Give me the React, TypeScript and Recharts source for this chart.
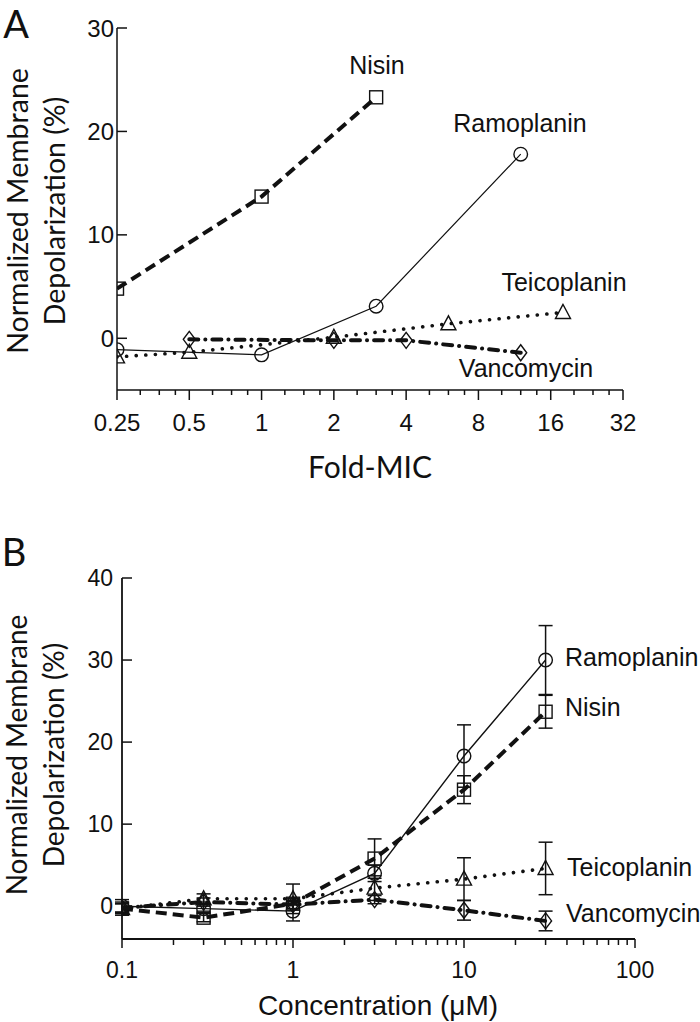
import React from 'react';
import { ComposedChart, Line, XAxis, YAxis, ErrorBar } from 'recharts';

const INK = '#111111';
const SANS = '"Liberation Sans", Arial, sans-serif';
const TITLE = 'Lato, "Liberation Sans", sans-serif';

// ---------- Panel A (Fold-MIC) ----------
const foldTicks = [0.25, 0.5, 1, 2, 4, 8, 16, 32];
const foldMinorTicks = [0.3125, 0.375, 0.4375, 0.625, 0.75, 0.875, 1.25, 1.5, 1.75, 2.5, 3, 3.5, 5, 6, 7, 10, 12, 14, 20, 24, 28];
const yTicksA = [0, 10, 20, 30];

const nisinAx = [0.25, 1, 3];
const nisinAy = [4.8, 13.7, 23.3];
const ramoAx = [0.25, 1, 3, 12];
const ramoAy = [-1.1, -1.6, 3.1, 17.8];
const teicoAx = [0.25, 0.5, 2, 6, 18];
const teicoAy = [-1.8, -1.35, 0.1, 1.4, 2.5];
const vancoAx = [0.5, 2, 4, 12];
const vancoAy = [-0.1, -0.2, -0.2, -1.4];

// ---------- Panel B (Concentration) ----------
const concTicks = [0.1, 1, 10, 100];
const concMinorTicks = [0.2, 0.3, 0.4, 0.5, 0.6, 0.7, 0.8, 0.9, 2, 3, 4, 5, 6, 7, 8, 9, 20, 30, 40, 50, 60, 70, 80, 90];
const yTicksB = [0, 10, 20, 30, 40];
const concB = [0.1, 0.3, 1, 3, 10, 30];

const ramoB = [0.0, -0.3, -0.6, 4.0, 18.3, 30.0];
const ramoBErr = [0.8, 0.5, 1.2, 1.0, 3.8, 4.2];
const nisinB = [-0.3, -1.4, 0.3, 5.8, 14.2, 23.7];
const nisinBErr = [0.8, 0.5, 0.6, 2.4, 1.7, 2.0];
const teicoB = [-0.3, 0.9, 0.9, 2.2, 3.3, 4.6];
const teicoBErr = [0.6, 0.6, 1.8, 1.5, 2.6, 3.2];
const vancoB = [-0.2, 0.5, 0.2, 0.8, -0.5, -1.8];
const vancoBErr = [0.5, 0.5, 0.5, 0.5, 1.2, 1.2];

const pts = (xs: number[], ys: number[], errs?: number[]) =>
  xs.map((x, i) => ({ x, y: ys[i], err: errs ? errs[i] : 0 }));

type Shape = 'square' | 'circle' | 'triangle' | 'diamond';

const makeDot = (shape: Shape) => (props: any) => {
  const { cx, cy, index } = props;
  if (cx == null || cy == null || isNaN(cx) || isNaN(cy)) return <g key={`d${index}`} />;
  const common = { fill: 'none', stroke: INK, strokeWidth: 1.4 };
  if (shape === 'square') return <rect key={`d${index}`} x={cx - 6.5} y={cy - 6.5} width={13} height={13} {...common} />;
  if (shape === 'circle') return <circle key={`d${index}`} cx={cx} cy={cy} r={6.8} {...common} />;
  if (shape === 'triangle')
    return <polygon key={`d${index}`} points={`${cx},${cy - 8} ${cx - 7.5},${cy + 6} ${cx + 7.5},${cy + 6}`} {...common} />;
  return <polygon key={`d${index}`} points={`${cx},${cy - 8} ${cx + 6},${cy} ${cx},${cy + 8} ${cx - 6},${cy}`} {...common} />;
};

// y axis: inward ticks, labels just left of the axis line
const makeYTick = (gap: number, len: number, fontSize: number) => (props: any) => {
  const { x, y, payload } = props;
  const ax = x; // tickSize 0, tickMargin 0 -> x is the axis line
  return (
    <g>
      <line x1={ax} x2={ax + len} y1={y} y2={y} stroke={INK} strokeWidth={1.5} />
      <text x={ax - gap} y={y} textAnchor="end" dominantBaseline="central" fontSize={fontSize} fontFamily={SANS} fill={INK}>
        {payload.value}
      </text>
    </g>
  );
};

// x axis: outward major/minor ticks, labels only on majors
const makeXTick = (majors: number[], majorLen: number, minorLen: number, fontSize: number, labelDy: number) => (props: any) => {
  const { x, y, payload } = props;
  const v = payload.value;
  const major = majors.some((m) => Math.abs(m - v) < 1e-9);
  return (
    <g>
      <line x1={x} x2={x} y1={y} y2={y + (major ? majorLen : minorLen)} stroke={INK} strokeWidth={1.5} />
      {major && (
        <text x={x} y={y + labelDy} textAnchor="middle" dominantBaseline="central" fontSize={fontSize} fontFamily={SANS} fill={INK}>
          {String(v)}
        </text>
      )}
    </g>
  );
};

const styles = {
  nisin: { stroke: INK, strokeWidth: 4, strokeDasharray: '11 6' },
  ramo: { stroke: INK, strokeWidth: 1.2 },
  teico: { stroke: INK, strokeWidth: 3.6, strokeDasharray: '0.1 9.5', strokeLinecap: 'round' as const },
  vanco: { stroke: INK, strokeWidth: 4, strokeDasharray: '9 7 0.1 7', strokeLinecap: 'round' as const },
};

const foldAll = [...foldTicks, ...foldMinorTicks].sort((a, b) => a - b);
const concAll = [...concTicks, ...concMinorTicks].sort((a, b) => a - b);

function PanelA() {
  return (
    <ComposedChart width={700} height={440} margin={{ top: 28, right: 77, bottom: 20, left: 87 }}>
      <XAxis
        dataKey="x"
        type="number"
        scale="log"
        domain={[0.25, 32]}
        allowDataOverflow
        ticks={foldAll}
        interval={0}
        height={30}
        axisLine={{ stroke: INK, strokeWidth: 1.5 }}
        tickLine={false}
        tickSize={0}
        tickMargin={0}
        tick={makeXTick(foldTicks, 10, 5, 24, 32)}
      />
      <YAxis
        type="number"
        domain={[-5, 30]}
        ticks={yTicksA}
        interval={0}
        width={30}
        allowDataOverflow
        axisLine={{ stroke: INK, strokeWidth: 1.5 }}
        tickLine={false}
        tickSize={0}
        tickMargin={0}
        tick={makeYTick(3, 10, 24)}
      />
      <Line data={pts(nisinAx, nisinAy)} dataKey="y" type="linear" {...styles.nisin} dot={makeDot('square')} activeDot={false} isAnimationActive={false} />
      <Line data={pts(ramoAx, ramoAy)} dataKey="y" type="linear" {...styles.ramo} dot={makeDot('circle')} activeDot={false} isAnimationActive={false} />
      <Line data={pts(teicoAx, teicoAy)} dataKey="y" type="linear" {...styles.teico} dot={makeDot('triangle')} activeDot={false} isAnimationActive={false} />
      <Line data={pts(vancoAx, vancoAy)} dataKey="y" type="linear" {...styles.vanco} dot={makeDot('diamond')} activeDot={false} isAnimationActive={false} />
    </ComposedChart>
  );
}

function PanelB() {
  const eb = (k: string) => (
    <ErrorBar dataKey="err" width={7} stroke={INK} strokeWidth={1.5} direction="y" isAnimationActive={false} key={k} />
  );
  return (
    <ComposedChart width={700} height={522} margin={{ top: 78, right: 65, bottom: 53, left: 92 }}>
      <XAxis
        dataKey="x"
        type="number"
        scale="log"
        domain={[0.1, 100]}
        allowDataOverflow
        ticks={concAll}
        interval={0}
        height={30}
        axisLine={{ stroke: INK, strokeWidth: 1.8 }}
        tickLine={false}
        tickSize={0}
        tickMargin={0}
        tick={makeXTick(concTicks, 9, 6, 23, 31)}
      />
      <YAxis
        type="number"
        domain={[-4, 40]}
        ticks={yTicksB}
        interval={0}
        width={30}
        allowDataOverflow
        axisLine={{ stroke: INK, strokeWidth: 1.8 }}
        tickLine={false}
        tickSize={0}
        tickMargin={0}
        tick={makeYTick(9, 10, 23)}
      />
      <Line data={pts(concB, nisinB, nisinBErr)} dataKey="y" type="linear" {...styles.nisin} dot={makeDot('square')} activeDot={false} isAnimationActive={false}>
        {eb('n')}
      </Line>
      <Line data={pts(concB, ramoB, ramoBErr)} dataKey="y" type="linear" {...styles.ramo} strokeWidth={1.4} dot={makeDot('circle')} activeDot={false} isAnimationActive={false}>
        {eb('r')}
      </Line>
      <Line data={pts(concB, teicoB, teicoBErr)} dataKey="y" type="linear" {...styles.teico} dot={makeDot('triangle')} activeDot={false} isAnimationActive={false}>
        {eb('t')}
      </Line>
      <Line data={pts(concB, vancoB, vancoBErr)} dataKey="y" type="linear" {...styles.vanco} dot={makeDot('diamond')} activeDot={false} isAnimationActive={false}>
        {eb('v')}
      </Line>
    </ComposedChart>
  );
}

function Overlay() {
  const lab = { fontSize: 25, fontFamily: SANS, fill: INK };
  const yl = { fontFamily: TITLE, fill: INK, textAnchor: 'middle' as const, dominantBaseline: 'central' as const };
  return (
    <svg width={700} height={1022} style={{ position: 'absolute', left: 0, top: 0, pointerEvents: 'none' }}>
      <text x={16} y={23} fontSize={38} fontFamily={TITLE} fill={INK} textAnchor="middle" dominantBaseline="central">A</text>
      <text x={14} y={551} fontSize={38} fontFamily={TITLE} fill={INK} textAnchor="middle" dominantBaseline="central">B</text>

      <text transform="translate(17,211) rotate(-90)" fontSize={28.5} {...yl}>Normalized Membrane</text>
      <text transform="translate(54,211) rotate(-90)" fontSize={28.5} {...yl}>Depolarization (%)</text>
      <text x={370} y={466} fontSize={30} {...yl}>Fold-MIC</text>

      <text x={377} y={65} textAnchor="middle" dominantBaseline="central" {...lab}>Nisin</text>
      <text x={520} y={123} textAnchor="middle" dominantBaseline="central" {...lab}>Ramoplanin</text>
      <text x={564} y={282} textAnchor="middle" dominantBaseline="central" {...lab}>Teicoplanin</text>
      <text x={526} y={368} textAnchor="middle" dominantBaseline="central" {...lab}>Vancomycin</text>

      <text transform="translate(16,755) rotate(-90)" fontSize={28} {...yl}>Normalized Membrane</text>
      <text transform="translate(53,755) rotate(-90)" fontSize={28} {...yl}>Depolarization (%)</text>
      <text x={378} y={1005} fontSize={28} fontFamily={SANS} fill={INK} textAnchor="middle" dominantBaseline="central">Concentration (μM)</text>

      <text x={565} y={657} dominantBaseline="central" {...lab}>Ramoplanin</text>
      <text x={565} y={707} dominantBaseline="central" {...lab}>Nisin</text>
      <text x={567} y={867} dominantBaseline="central" {...lab}>Teicoplanin</text>
      <text x={566} y={913} dominantBaseline="central" {...lab}>Vancomycin</text>
    </svg>
  );
}

export default function App() {
  return (
    <div style={{ position: 'absolute', left: 0, top: 0, width: 700, height: 1022, background: '#fff', overflow: 'hidden' }}>
      <div style={{ position: 'absolute', left: 0, top: 0 }}>
        <PanelA />
      </div>
      <div style={{ position: 'absolute', left: 0, top: 500 }}>
        <PanelB />
      </div>
      <Overlay />
    </div>
  );
}
